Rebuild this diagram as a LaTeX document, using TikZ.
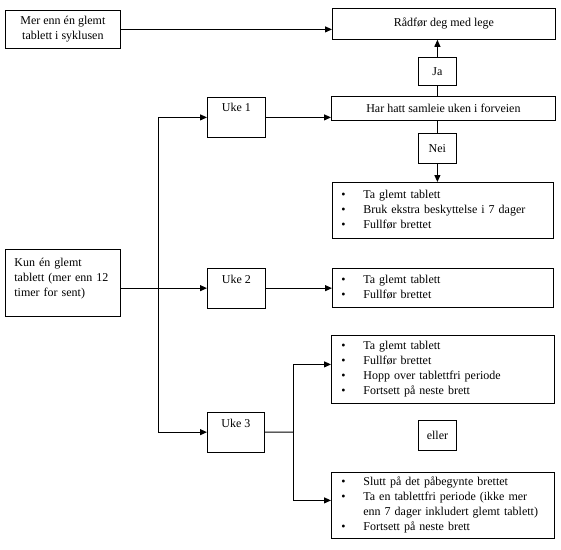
\documentclass[tikz,border=0pt]{standalone}
\usepackage{fontspec}
\setmainfont{Liberation Serif}
\usetikzlibrary{arrows.meta}

\tikzset{
  boks/.style = {draw, line width=0.8pt, anchor=north west, inner sep=0pt, align=center},
  liste/.style = {boks, align=left, inner xsep=9pt, text width=203pt, text height=10.5pt, text depth=#1},
  uke/.style = {boks, minimum width=58pt, text height=15pt, text depth=24.5pt},
  linje/.style = {line width=1pt},
  pil/.style = {linje, -{Triangle[length=7pt, width=6pt]}},
  dobbelpil/.style = {linje, {Triangle[length=7pt, width=6pt]}-{Triangle[length=7pt, width=6pt]}},
}
\newcommand{\pkt}{\makebox[22pt][l]{\textbullet}}

\begin{document}
\begin{tikzpicture}[x=1pt, y=-1pt, font=\fontsize{12}{15}\selectfont]
	\useasboundingbox (0,0) rectangle (561,549);

	% venstre kolonne
	\node[boks, minimum width=115pt, minimum height=38pt] (mer) at (5,10) {Mer enn én glemt\\tablett i syklusen};
	\node[boks, align=left, inner xsep=9pt, text width=97pt, text height=17pt, text depth=50pt] (kun) at (5,249) {Kun én glemt\\tablett (mer enn 12\\timer for sent)};

	% uker
	\node[uke, text height=14.5pt, text depth=25.5pt] (uke1) at (207,97) {Uke 1};
	\node[uke] (uke2) at (207,268) {Uke 2};
	\node[uke, minimum width=57pt] (uke3) at (207,412) {Uke 3};

	% hoyre kolonne
	\node[boks, minimum width=223pt, minimum height=31pt] (lege) at (332,8) {Rådfør deg med lege};
	\node[boks, minimum width=38pt, minimum height=28pt] (ja) at (418,57) {Ja};
	\node[boks, minimum width=224pt, minimum height=24pt] (samleie) at (331,96) {Har hatt samleie uken i forveien};
	\node[boks, minimum width=38pt, minimum height=30pt] (nei) at (418,133) {Nei};
	\node[liste=34.5pt, minimum height=56pt] (tiltakA) at (332,182) {\pkt Ta glemt tablett\\\pkt Bruk ekstra beskyttelse i 7 dager\\\pkt Fullfør brettet};
	\node[liste=19.5pt, minimum height=39pt] (tiltakB) at (332,268) {\pkt Ta glemt tablett\\\pkt Fullfør brettet};
	\node[liste=49.5pt, minimum height=68pt, inner xsep=10pt] (tiltakC) at (331,335) {\pkt Ta glemt tablett\\\pkt Fullfør brettet\\\pkt Hopp over tablettfri periode\\\pkt Fortsett på neste brett};
	\node[boks, minimum width=38pt, minimum height=30pt] (eller) at (418,420) {eller};
	\node[liste=49.5pt, minimum height=66pt, inner xsep=10pt] (tiltakD) at (331,472) {\pkt Slutt på det påbegynte brettet\\\pkt Ta en tablettfri periode (ikke mer\\\hspace*{22pt}enn 7 dager inkludert glemt tablett)\\\pkt Fortsett på neste brett};

	% piler
	\draw[pil] (mer.east) -- (mer.east -| lege.west);
	\draw[linje] (ja.south) -- (ja.south |- samleie.north);
	\draw[pil] (ja.north) -- (ja.north |- lege.south);
	\draw[linje] (nei.north) -- (nei.north |- samleie.south);
	\draw[pil] (nei.south) -- (nei.south |- tiltakA.north);
	\draw[pil] (uke1.east) -- (uke1.east -| samleie.west);
	\draw[pil] (uke2.east) -- (uke2.east -| tiltakB.west);

	\coordinate (kryss) at (158,288);
	\draw[pil] (kun.east |- uke2.west) -- (uke2.west);
	\draw[dobbelpil] (uke1.west) -| (kryss |- uke3.west) -- (uke3.west);

	\coordinate (deling) at (293,432);
	\coordinate (pilC) at ([yshift=5pt]tiltakC.west);
	\coordinate (pilD) at ([yshift=5pt]tiltakD.west);
	\draw[linje] (uke3.east) -- (deling);
	\draw[dobbelpil] (pilC) -| (deling |- pilD) -- (pilD);
\end{tikzpicture}
\end{document}
